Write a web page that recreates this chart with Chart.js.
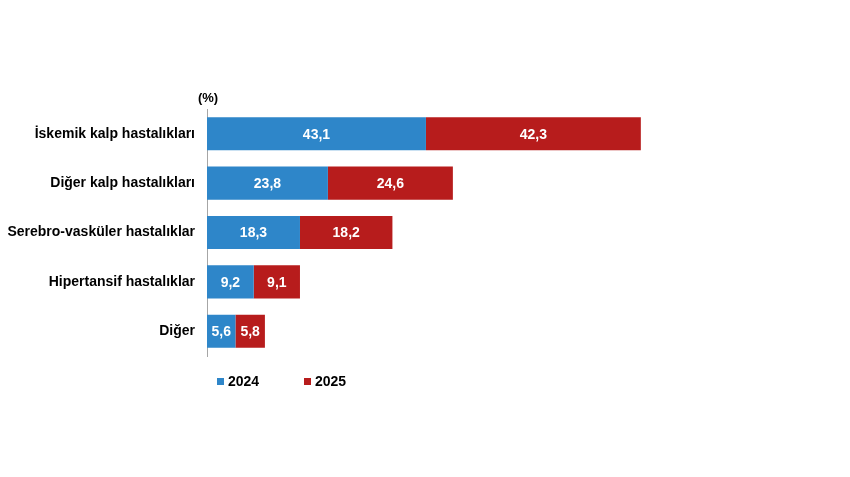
<!DOCTYPE html>
<html>
<head>
<meta charset="utf-8">
<script src="https://cdn.jsdelivr.net/npm/chart.js@4.4.1/dist/chart.umd.min.js"></script>
<style>
  html, body { margin: 0; padding: 0; background: #fff; }
  #wrap { width: 850px; height: 477px; }
</style>
</head>
<body>
<div id="wrap"><canvas id="myChart" width="850" height="477"></canvas></div>
<script>
const categories = [
  "İskemik kalp hastalıkları",
  "Diğer kalp hastalıkları",
  "Serebro-vasküler hastalıklar",
  "Hipertansif hastalıklar",
  "Diğer",
];
const values2024 = [43.1, 23.8, 18.3, 9.2, 5.6];
const values2025 = [42.3, 24.6, 18.2, 9.1, 5.8];
const seriesNames = ["2024", "2025"];

const FONT = "'Liberation Sans', Arial, sans-serif";

// value labels inside each segment + (%) note + legend
const extras = {
  id: "extras",
  afterDatasetsDraw(chart) {
    const ctx = chart.ctx;
    ctx.save();
    ctx.font = "bold 14px " + FONT;
    ctx.fillStyle = "#fff";
    ctx.textAlign = "center";
    ctx.textBaseline = "middle";
    chart.data.datasets.forEach((ds, i) => {
      chart.getDatasetMeta(i).data.forEach((bar, j) => {
        const txt = ds.data[j].toFixed(1).replace(".", ",");
        ctx.fillText(txt, (bar.x + bar.base) / 2, bar.y + 1);
      });
    });

    // (%) note above the axis
    ctx.fillStyle = "#000";
    ctx.font = "bold 13px " + FONT;
    ctx.fillText("(%)", chart.chartArea.left + 1, 98);

    // legend
    const legendX = [217, 304];
    ctx.font = "bold 14px " + FONT;
    ctx.textAlign = "left";
    chart.data.datasets.forEach((ds, i) => {
      ctx.fillStyle = ds.backgroundColor;
      ctx.fillRect(legendX[i], 378, 7, 7);
      ctx.fillStyle = "#000";
      ctx.fillText(ds.label, legendX[i] + 11, 382);
    });
    ctx.restore();
  },
};

new Chart(document.getElementById("myChart"), {
  type: "bar",
  data: {
    labels: categories,
    datasets: [
      {
        label: seriesNames[0],
        data: values2024,
        backgroundColor: "#2e86c9",
        categoryPercentage: 1,
        barPercentage: 0.67,
      },
      {
        label: seriesNames[1],
        data: values2025,
        backgroundColor: "#b71c1c",
        categoryPercentage: 1,
        barPercentage: 0.67,
      },
    ],
  },
  options: {
    indexAxis: "y",
    responsive: false,
    animation: false,
    layout: {
      padding: { left: 3, right: 135, top: 109, bottom: 121 },
    },
    plugins: {
      legend: { display: false },
      tooltip: { enabled: false },
    },
    scales: {
      x: {
        stacked: true,
        display: false,
        min: 0,
        max: 100,
      },
      y: {
        stacked: true,
        grid: { display: true, color: "transparent", drawTicks: false },
        border: { display: true, color: "#a6a6a6", width: 1 },
        ticks: {
          color: "#000",
          padding: 12,
          font: { family: FONT, size: 14, weight: "bold" },
        },
        afterFit(scale) {
          scale.width = 204;
        },
      },
    },
  },
  plugins: [extras],
});
</script>
</body>
</html>
